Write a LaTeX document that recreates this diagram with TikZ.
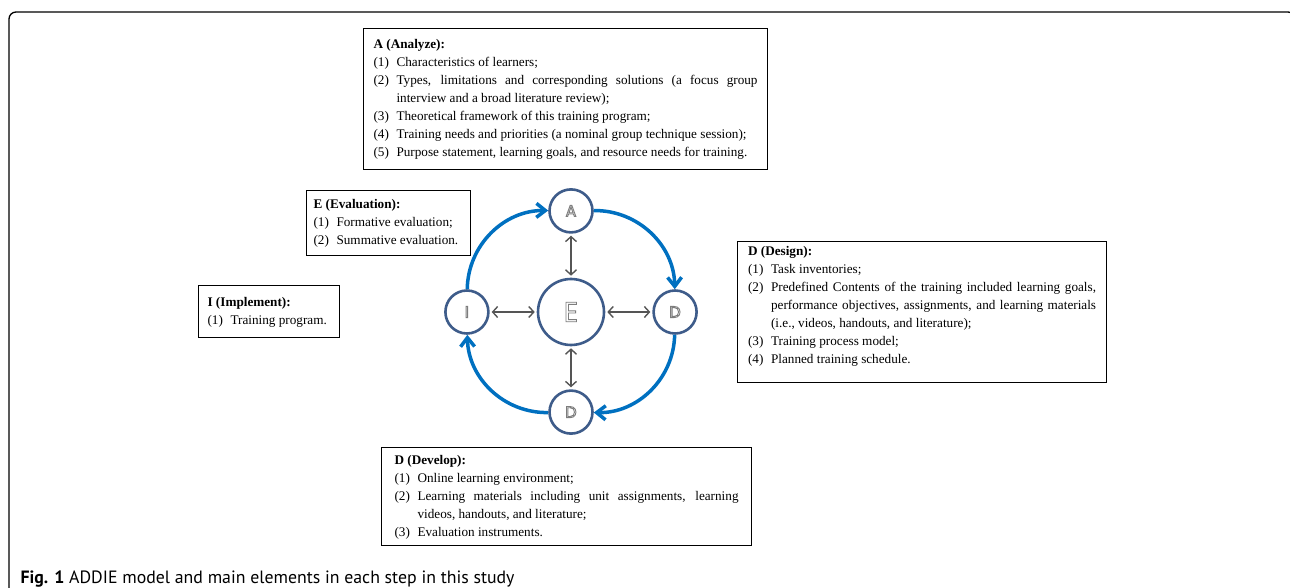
\documentclass[tikz,border=0pt]{standalone}
\usepackage{fontspec}
\setmainfont{Liberation Serif}
\newfontfamily\captionfont{PT Sans}
\newfontfamily\letterfont{Poppins}
\usepackage{xcolor}
\usetikzlibrary{arrows.meta,positioning}

\definecolor{ringblue}{RGB}{0,112,192}
\definecolor{phaseedge}{RGB}{62,92,138}
\definecolor{linkgray}{RGB}{85,85,85}
\definecolor{lettergray}{RGB}{125,125,125}

\newcommand{\boxfont}{\fontsize{13.2}{18}\selectfont\parindent=0pt\hyphenpenalty=10000}
\newcommand{\stepitem}[2]{\par\hangindent=23pt\hangafter=1\noindent\makebox[23pt][l]{(#1)}#2}
\newcommand{\hollow}[1]{\special{pdf:literal direct 1 Tr 0.9 w}#1\special{pdf:literal direct 0 Tr}}

\begin{document}
\begin{tikzpicture}[x=1pt,y=1pt,
  phasebox/.style={draw, line width=1.1pt, fill=white, anchor=north west,
    inner ysep=0pt, align=justify, font=\boxfont},
  phase/.style={circle, draw=phaseedge, line width=2.6pt, fill=white,
    inner sep=0pt, minimum size=43pt, text=lettergray,
    font=\letterfont\fontsize{16}{16}\selectfont},
  hub/.style={phase, minimum size=66pt, font=\letterfont\fontsize{28}{28}\selectfont},
  cyclearrow/.style={ringblue, line width=3.5pt, -{Straight Barb[length=9pt,width=14pt]}},
  link/.style={linkgray, line width=1.4pt,
    {Straight Barb[length=5pt,width=11pt]}-{Straight Barb[length=5pt,width=11pt]},
    shorten >=2pt, shorten <=2pt}]

\useasboundingbox (0,0) rectangle (1290,-588);
\clip (0,0) rectangle (1290,-588);

% figure frame
\draw[line width=1.3pt, rounded corners=7pt] (9,-12) rectangle (1295,-620);

% step boxes
\node[phasebox, text width=384pt, inner xsep=10pt, minimum height=141pt] (anl) at (363,-28) {%
  \strut\textbf{A (Analyze):}
  \stepitem{1}{Characteristics of learners;}
  \stepitem{2}{Types, limitations and corresponding solutions (a focus group\linebreak interview and a broad literature review);}
  \stepitem{3}{Theoretical framework of this training program;}
  \stepitem{4}{Training needs and priorities (a nominal group technique session);}
  \stepitem{5}{Purpose statement, learning goals, and resource needs for training.\strut}};

\node[phasebox, text width=150pt, inner xsep=7pt, minimum height=65pt] (evl) at (306,-190) {%
  \strut\textbf{E (Evaluation):}
  \stepitem{1}{Formative evaluation;}
  \stepitem{2}{Summative evaluation.\strut}};

\node[phasebox, text width=123pt, inner xsep=9pt, minimum height=52pt] (imp) at (198,-285) {%
  \strut\textbf{I (Implement):}
  \stepitem{1}{Training program.\strut}};

\node[phasebox, text width=348pt, inner xsep=10.5pt, minimum height=141pt] (dsg) at (737,-241) {%
  \strut\textbf{D (Design):}
  \stepitem{1}{Task inventories;}
  \stepitem{2}{Predefined Contents of the training included learning goals,\linebreak performance objectives, assignments, and learning materials\linebreak (i.e., videos, handouts, and literature);}
  \stepitem{3}{Training process model;}
  \stepitem{4}{Planned training schedule.\strut}
  \par\nointerlineskip\noindent\rule{0pt}{12pt}};

\node[phasebox, text width=344pt, inner xsep=13pt, minimum height=98pt] (dvl) at (381,-447) {%
  \strut\textbf{D (Develop):}
  \stepitem{1}{Online learning environment;}
  \stepitem{2}{Learning materials including unit assignments, learning\linebreak videos, handouts, and literature;}
  \stepitem{3}{Evaluation instruments.\strut}};

% ADDIE cycle
\node[hub] (E) at (571,-312) {\hollow{E}};
\node[phase, above=44pt of E] (A) {\hollow{A}};
\node[phase, right=47pt of E] (Ds) {\hollow{D}};
\node[phase, below=43pt of E] (Dv) {\hollow{D}};
\node[phase, left=47pt of E] (I) {\hollow{I}};

\draw[cyclearrow] (I) to[bend left=45] (A);
\draw[cyclearrow] (A) to[bend left=45] (Ds);
\draw[cyclearrow] (Ds) to[bend left=45] (Dv);
\draw[cyclearrow] (Dv) to[bend left=45] (I);

\draw[link] (E) -- (A);
\draw[link] (E) -- (Ds);
\draw[link] (E) -- (Dv);
\draw[link] (E) -- (I);

% caption
\node[anchor=base west, font=\captionfont\fontsize{17.8}{18}\selectfont] (cap) at (17,-583)
  {\textbf{Fig. 1} ADDIE model and main elements in each step in this study};

\end{tikzpicture}
\end{document}
